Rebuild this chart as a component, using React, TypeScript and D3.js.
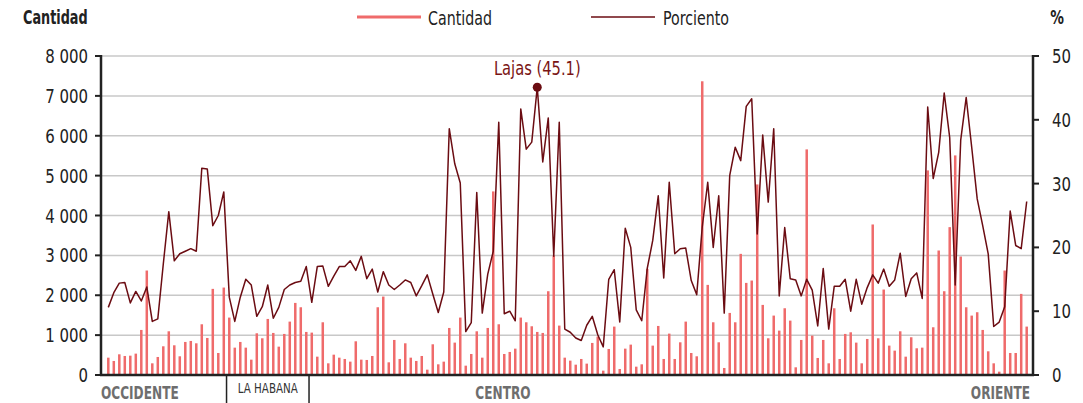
import React from 'react';
import * as d3 from 'd3';

// cantidad por municipio (168), en orden occidente -> oriente
const cantidad = [
  435, 352, 519, 477, 485, 536, 1130, 2620, 293, 452, 720, 1096, 745, 469, 829, 854, 795, 1272, 929, 2160,
  552, 2193, 1440, 686, 829, 686, 385, 1046, 921, 1406, 1055, 711, 1030, 1339, 1808, 1699, 1080, 1063, 460, 1322,
  293, 510, 435, 402, 335, 845, 385, 377, 477, 1699, 1967, 318, 879, 402, 795, 435, 352, 477, 134, 770,
  268, 335, 1180, 812, 1440, 234, 527, 1096, 435, 1180, 4604, 1272, 527, 578, 661, 1440, 1322, 1222, 1080, 1055,
  2101, 2996, 1239, 435, 360, 259, 402, 285, 804, 963, 109, 653, 1214, 151, 661, 762, 209, 268, 2662, 737,
  1230, 402, 1038, 402, 820, 1339, 552, 469, 7366, 2260, 1322, 820, 176, 1557, 1322, 3038, 2310, 2369, 4779, 1758,
  921, 1490, 1113, 1674, 1364, 193, 879, 5658, 988, 427, 879, 293, 1674, 402, 1030, 1071, 812, 293, 904, 3775,
  921, 2143, 737, 611, 1096, 460, 946, 670, 686, 5131, 1197, 3122, 2101, 3708, 5507, 2971, 1699, 1490, 1574, 1130,
  594, 293, 84, 2620, 552, 552, 2034, 1214,
];

const porciento = [
  10.6, 12.9, 14.4, 14.5, 11.3, 13.1, 11.6, 13.8, 8.4, 8.8, 17.4, 25.6, 17.9, 19.0, 19.4, 19.8, 19.4, 32.4, 32.3, 23.4,
  25.0, 28.7, 12.2, 8.4, 12.2, 15.0, 14.1, 9.2, 10.7, 14.1, 8.9, 10.6, 13.4, 14.1, 14.5, 14.7, 17.0, 11.4, 17.0, 17.1,
  13.9, 15.5, 17.0, 17.0, 17.9, 16.4, 18.6, 15.1, 16.6, 13.0, 16.2, 14.1, 13.4, 14.1, 14.9, 14.5, 12.4, 14.0, 15.7, 12.7,
  9.8, 13.0, 38.6, 33.1, 30.1, 6.8, 8.2, 28.6, 9.7, 15.8, 19.4, 39.6, 9.6, 10.0, 8.5, 41.7, 35.4, 36.5, 45.1, 33.4,
  40.3, 18.6, 39.6, 7.2, 6.7, 5.8, 5.4, 7.8, 9.2, 6.3, 4.4, 15.0, 16.5, 8.3, 23.0, 20.0, 10.2, 8.5, 16.7, 21.1,
  28.1, 15.2, 30.2, 19.0, 19.8, 19.9, 14.8, 12.6, 23.2, 30.2, 20.0, 28.1, 9.7, 31.3, 35.7, 33.6, 42.1, 43.3, 22.1, 37.6,
  27.1, 38.6, 12.4, 23.1, 15.1, 14.9, 12.4, 15.0, 13.3, 7.7, 16.7, 7.2, 13.9, 13.9, 15.0, 10.0, 15.0, 11.1, 13.7, 15.7,
  14.4, 16.6, 13.9, 14.9, 19.1, 12.3, 15.1, 16.0, 12.0, 42.0, 30.8, 34.9, 44.2, 37.2, 14.1, 36.8, 43.5, 35.7, 27.6, 23.4,
  19.0, 7.6, 8.3, 10.7, 25.7, 20.3, 19.8, 27.2,
];

const leftTicks = [0, 1000, 2000, 3000, 4000, 5000, 6000, 7000, 8000];
const rightTicks = [0, 10, 20, 30, 40, 50];
// indice donde empieza cada region
const habanaStart = 22;
const centroStart = 37;
const maxIndex = 78; // Lajas

const W = 1083;
const H = 403;
const left = 101;
const right = 1033;
const top = 56;
const bottom = 375;

const FONT = '"Liberation Sans Narrow", "DejaVu Sans Condensed", "Roboto Condensed", sans-serif';
const BAR = '#ef6b6b';
const LINE = '#6b0c12';

// texto estrechado en horizontal, la fuente original es condensada
function T({ x, y, sx, size, anchor = 'start', weight = 'normal', fill = '#222', children }: any) {
  return (
    <text
      transform={`translate(${x},${y}) scale(${sx},1)`}
      fontSize={size}
      fontWeight={weight}
      fill={fill}
      textAnchor={anchor}
    >
      {children}
    </text>
  );
}

export default function App() {
  const idx = d3.range(cantidad.length);
  const x = d3.scalePoint<number>().domain(idx).range([108.3, 1026.7]);
  const y = d3.scaleLinear().domain([0, 8000]).range([bottom, top]);
  const y2 = d3.scaleLinear().domain([0, 50]).range([bottom, top]);

  const line = d3
    .line<number>()
    .x((d, i) => x(i) as number)
    .y((d) => y2(d));

  const sep1 = ((x(habanaStart - 1) as number) + (x(habanaStart) as number)) / 2;
  const sep2 = ((x(centroStart - 1) as number) + (x(centroStart) as number)) / 2;
  const mx = x(maxIndex) as number;
  const my = y2(porciento[maxIndex]);

  const fmt = (v: number) => d3.format(',')(v).replace(/,/g, ' ');

  return (
    <svg width={W} height={H} style={{ position: 'absolute', left: 0, top: 0 }} fontFamily={FONT}>
      {/* titulos de ejes */}
      <T x={23} y={24} sx={0.75} size={19} weight="bold">Cantidad</T>
      <T x={1064} y={24} sx={0.8} size={19} weight="bold" anchor="end">%</T>

      {/* leyenda */}
      <line x1={357} x2={421} y1={17} y2={17} stroke={BAR} strokeWidth={3} />
      <T x={428} y={25} sx={0.79} size={20}>Cantidad</T>
      <line x1={591} x2={655} y1={17} y2={17} stroke={LINE} strokeWidth={1.5} />
      <T x={663} y={25} sx={0.79} size={20}>Porciento</T>

      {/* rejilla */}
      {leftTicks.slice(1).map((t) => (
        <line key={t} x1={left} x2={right} y1={y(t)} y2={y(t)} stroke="#c8c8c8" strokeWidth={1.5} />
      ))}

      {/* barras */}
      {cantidad.map((v, i) => (
        <rect key={i} x={(x(i) as number) - 1.25} width={2.5} y={y(v)} height={bottom - y(v)} fill={BAR} />
      ))}

      {/* linea de porciento */}
      <path d={line(porciento) || ''} fill="none" stroke={LINE} strokeWidth={1.5} strokeLinejoin="round" />
      <circle cx={mx} cy={my} r={4.5} fill={LINE} />
      <T x={mx} y={my - 12} sx={0.86} size={19} fill="#7a1414" anchor="middle">
        Lajas ({porciento[maxIndex]})
      </T>

      {/* eje izquierdo */}
      <line x1={left} x2={left} y1={top - 1} y2={bottom} stroke="#222" strokeWidth={2.5} />
      {leftTicks.map((t) => (
        <g key={t}>
          <line x1={left - 6} x2={left} y1={y(t)} y2={y(t)} stroke="#222" strokeWidth={2} />
          <T x={88} y={y(t) + 7} sx={0.875} size={19} anchor="end">{fmt(t)}</T>
        </g>
      ))}

      {/* eje derecho */}
      <line x1={right} x2={right} y1={top - 1} y2={bottom} stroke="#222" strokeWidth={2.5} />
      {rightTicks.map((t) => (
        <g key={t}>
          <line x1={right} x2={right + 6} y1={y2(t)} y2={y2(t)} stroke="#222" strokeWidth={2} />
          <T x={1052} y={y2(t) + 7} sx={0.875} size={19}>{t}</T>
        </g>
      ))}

      {/* eje inferior */}
      <line x1={left - 1} x2={right + 1} y1={bottom} y2={bottom} stroke="#222" strokeWidth={2.5} />
      <line x1={sep1} x2={sep1} y1={bottom} y2={H} stroke="#222" strokeWidth={1.5} />
      <line x1={sep2} x2={sep2} y1={bottom} y2={H} stroke="#222" strokeWidth={1.5} />

      <T x={101} y={399} sx={0.75} size={18} weight="bold" fill="#6e6e6e">OCCIDENTE</T>
      <T x={(sep1 + sep2) / 2} y={393} sx={0.79} size={14.5} fill="#333" anchor="middle">LA HABANA</T>
      <T x={503} y={399} sx={0.75} size={18} weight="bold" fill="#6e6e6e" anchor="middle">CENTRO</T>
      <T x={1030} y={399} sx={0.75} size={18} weight="bold" fill="#6e6e6e" anchor="end">ORIENTE</T>
    </svg>
  );
}
